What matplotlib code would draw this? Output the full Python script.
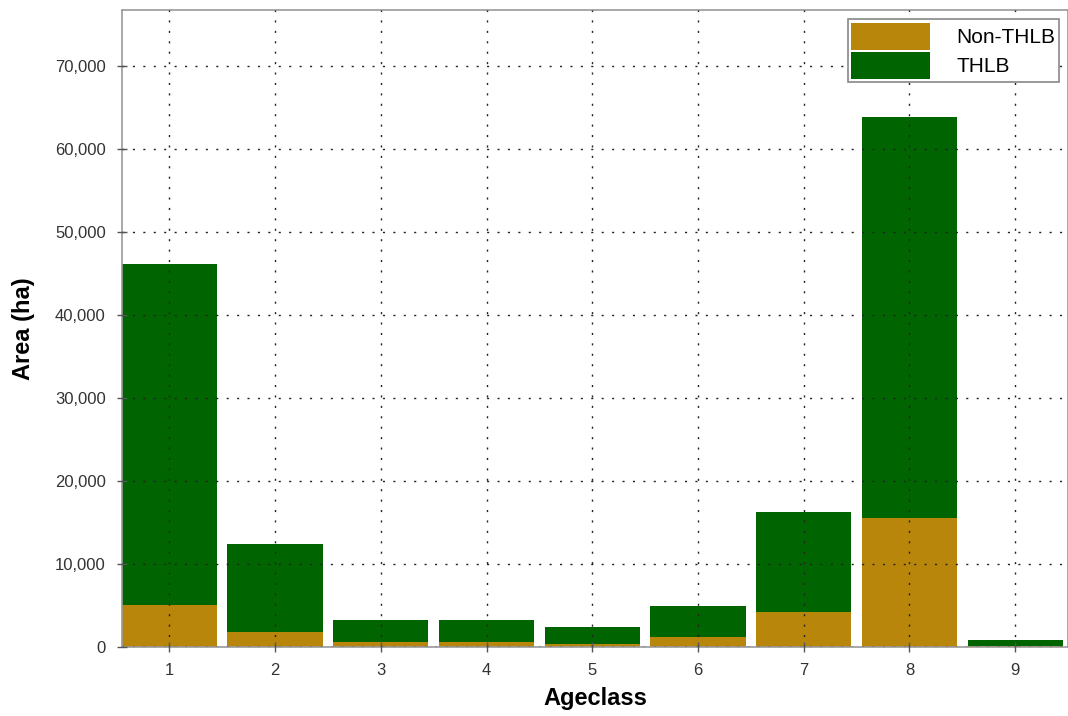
import matplotlib

matplotlib.use("Agg")

import matplotlib.pyplot as plt  # noqa: E402
from matplotlib.ticker import FuncFormatter  # noqa: E402

plt.rcParams["font.family"] = ["Liberation Sans", "DejaVu Sans"]

# Area by ageclass, split into THLB and non-THLB (ha)
ageclasses = [1, 2, 3, 4, 5, 6, 7, 8, 9]
non_thlb = [4950, 1800, 500, 500, 250, 1200, 4200, 15550, 100]
thlb = [41200, 10500, 2750, 2750, 2050, 3650, 12050, 48200, 640]

NON_THLB_COLOR = "#B8860B"
THLB_COLOR = "#006400"

fig = plt.figure(figsize=(10.68, 7.16), dpi=100)
ax = fig.add_axes([0.114, 0.097, 0.886, 0.889])

ax.bar(ageclasses, non_thlb, width=0.9, color=NON_THLB_COLOR,
       edgecolor="none", label="Non-THLB", zorder=2)
ax.bar(ageclasses, thlb, width=0.9, bottom=non_thlb, color=THLB_COLOR,
       edgecolor="none", label="THLB", zorder=2)

ax.set_xlim(0.55, 9.5)
ax.set_ylim(0, 76700)
ax.set_xticks(ageclasses)
ax.set_yticks(range(0, 70001, 10000))
ax.yaxis.set_major_formatter(FuncFormatter(lambda v, _: f"{int(v):,}"))

ax.grid(True, color="#222222", linestyle=(0, (1.5, 6)), linewidth=1.0,
        zorder=3)
ax.set_axisbelow(False)
for spine in ax.spines.values():
    spine.set_color("#999999")
    spine.set_linewidth(1.2)

ax.tick_params(direction="inout", length=7, width=1, color="#555555",
               labelsize=12, labelcolor="#333333", pad=8)

ax.set_xlabel("Ageclass", fontsize=17, fontweight="bold", labelpad=7)
ax.set_ylabel("Area (ha)", fontsize=17, fontweight="bold", labelpad=14)

leg = ax.legend(loc="upper right", fontsize=15, handlelength=3.8,
                handleheight=1.65, borderaxespad=0.45, handletextpad=1.25,
                labelspacing=0.08, fancybox=False, framealpha=1,
                borderpad=0.15)
leg.get_frame().set_edgecolor("#888888")
leg.get_frame().set_linewidth(1.2)

fig.savefig("out.png", dpi=100)
